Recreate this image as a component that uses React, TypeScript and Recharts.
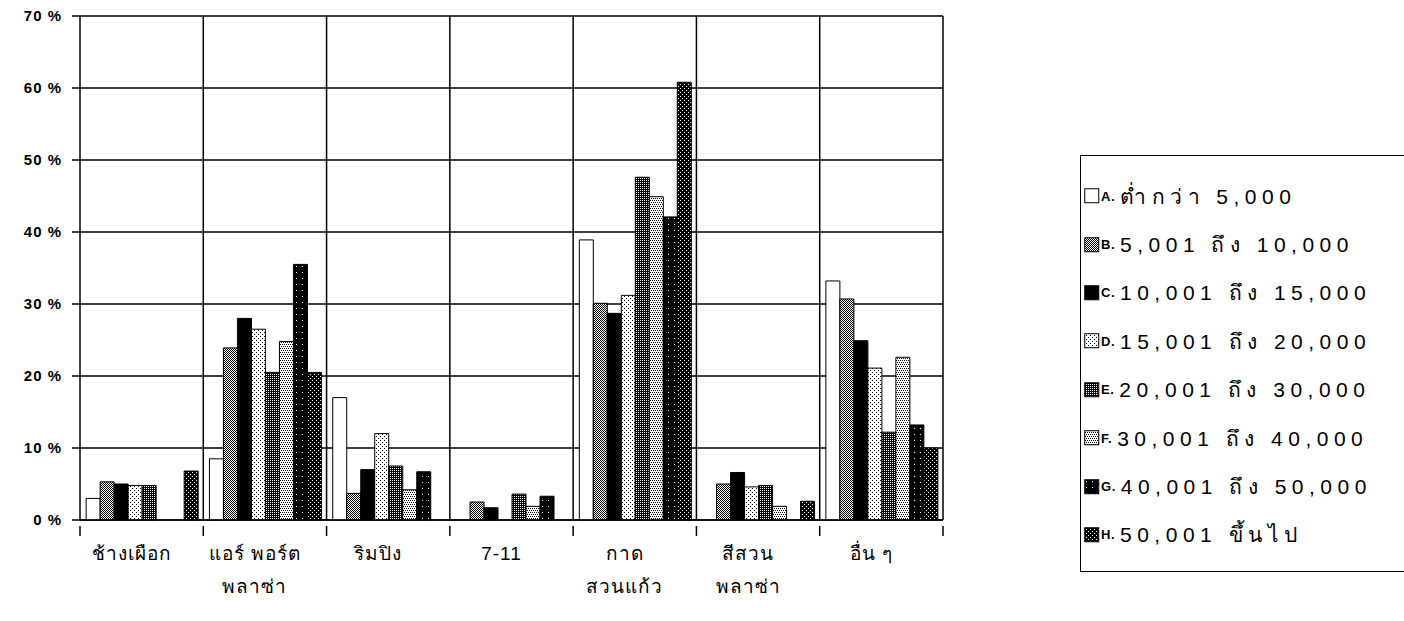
import { Bar, BarChart, CartesianGrid, XAxis, YAxis } from "recharts";

const categories = ["ช้างเผือก", "แอร์ พอร์ต|พลาซ่า", "ริมปิง", "7-11", "กาด|สวนแก้ว", "สีสวน|พลาซ่า", "อื่น ๆ"];
const yTicks = [0, 10, 20, 30, 40, 50, 60, 70];

const seriesA = [3.0, 8.5, 17, 0, 38.9, 0, 33.2];
const seriesB = [5.3, 23.9, 3.7, 2.5, 30.1, 5.0, 30.7];
const seriesC = [5.0, 28, 7, 1.7, 28.7, 6.6, 24.9];
const seriesD = [4.8, 26.5, 12, 0, 31.2, 4.6, 21.1];
const seriesE = [4.8, 20.5, 7.5, 3.6, 47.6, 4.8, 12.2];
const seriesF = [0, 24.8, 4.2, 1.9, 44.9, 1.9, 22.6];
const seriesG = [0, 35.5, 6.7, 3.3, 42.1, 0, 13.2];
const seriesH = [6.8, 20.5, 0, 0, 60.8, 2.6, 10];

const seriesKeys = ["A", "B", "C", "D", "E", "F", "G", "H"];
const seriesLabels = [
  "ต่ำกว่า 5,000",
  "5,001 ถึง 10,000",
  "10,001 ถึง 15,000",
  "15,001 ถึง 20,000",
  "20,001 ถึง 30,000",
  "30,001 ถึง 40,000",
  "40,001 ถึง 50,000",
  "50,001 ขึ้นไป",
];
const allSeries = [seriesA, seriesB, seriesC, seriesD, seriesE, seriesF, seriesG, seriesH];

const data = categories.map((name, i) => {
  const row: Record<string, string | number> = { name };
  seriesKeys.forEach((k, s) => (row[k] = allSeries[s][i]));
  return row;
});

const fills: Record<string, string> = {
  A: "#fff",
  B: "url(#pB)",
  C: "#000",
  D: "url(#pD)",
  E: "url(#pE)",
  F: "url(#pF)",
  G: "url(#pG)",
  H: "url(#pH)",
};

const font = "'Liberation Sans', Arial, sans-serif";

function XTick(props: any) {
  const { x, y, payload, index } = props;
  const half = payload.offset ?? 0;
  const lines = String(payload.value).split("|");
  const top = y - 2;
  return (
    <g>
      <line x1={x - half} x2={x - half} y1={top} y2={top + 10} stroke="#000" strokeWidth={1.5} />
      {index === categories.length - 1 && (
        <line x1={x + half} x2={x + half} y1={top} y2={top + 10} stroke="#000" strokeWidth={1.5} />
      )}
      {lines.map((l, i) => (
        <text
          key={i}
          x={x - 10}
          y={top + 34 + i * 33}
          textAnchor="middle"
          fontSize={19}
          letterSpacing={1}
          fill="#000"
          fontFamily={font}
        >
          {l}
        </text>
      ))}
    </g>
  );
}

function LegendBox() {
  return (
    <div
      style={{
        position: "absolute",
        left: 1080,
        top: 155,
        border: "1.5px solid #000",
        borderRight: "none",
        width: 330,
        height: 417,
        boxSizing: "border-box",
        paddingTop: 16,
        fontFamily: font,
        whiteSpace: "nowrap",
      }}
    >
      {seriesKeys.map((k, i) => (
        <div key={k} style={{ display: "flex", alignItems: "center", height: 48.4, paddingLeft: 3 }}>
          <svg width={16} height={16} style={{ marginRight: 1, flex: "none" }}>
            <rect x={0.75} y={0.75} width={14} height={14} fill={fills[k]} stroke="#000" strokeWidth={1} />
          </svg>
          <span style={{ fontSize: 13, fontWeight: 700, marginRight: 5, letterSpacing: 0.5 }}>{k}.</span>
          <span style={{ fontSize: 21, letterSpacing: 5.5, color: "#000" }}>{seriesLabels[i]}</span>
        </div>
      ))}
    </div>
  );
}

export default function App() {
  return (
    <div style={{ position: "absolute", left: 0, top: 0, width: 1404, height: 621, background: "#fff", overflow: "hidden" }}>
      <BarChart
        width={1404}
        height={621}
        data={data}
        margin={{ top: 16, right: 461, left: 0, bottom: 0 }}
        barCategoryGap="5%"
        barGap={0}
      >
        <defs>
          <pattern id="pB" width={2} height={2} patternUnits="userSpaceOnUse">
            <rect width={2} height={2} fill="#fff" />
            <rect x={0} y={0} width={1} height={1} fill="#000" />
            <rect x={1} y={1} width={1} height={1} fill="#000" />
          </pattern>
          <pattern id="pD" width={4} height={4} patternUnits="userSpaceOnUse">
            <rect width={4} height={4} fill="#fff" />
            <rect x={0} y={0} width={1} height={1} fill="#000" />
            <rect x={2} y={2} width={1} height={1} fill="#000" />
          </pattern>
          <pattern id="pE" width={2} height={2} patternUnits="userSpaceOnUse">
            <rect width={2} height={2} fill="#000" />
            <rect x={0} y={0} width={1} height={1} fill="#fff" />
          </pattern>
          <pattern id="pF" width={4} height={4} patternUnits="userSpaceOnUse">
            <rect width={4} height={4} fill="#fff" />
            <rect x={0} y={0} width={1} height={1} fill="#000" />
            <rect x={2} y={0} width={1} height={1} fill="#000" />
            <rect x={1} y={2} width={1} height={1} fill="#000" />
            <rect x={3} y={2} width={1} height={1} fill="#000" />
          </pattern>
          <pattern id="pG" width={6} height={6} patternUnits="userSpaceOnUse">
            <rect width={6} height={6} fill="#000" />
            <rect x={2} y={2} width={1} height={1} fill="#fff" />
          </pattern>
          <pattern id="pH" width={4} height={4} patternUnits="userSpaceOnUse">
            <rect width={4} height={4} fill="#000" />
            <rect x={0} y={0} width={1} height={1} fill="#fff" />
            <rect x={2} y={2} width={1} height={1} fill="#fff" />
          </pattern>
        </defs>
        <CartesianGrid
          stroke="#000"
          strokeWidth={1.5}
          verticalCoordinatesGenerator={({ offset }: any) =>
            categories.map((_, i) => offset.left + ((i + 1) * offset.width) / categories.length)
          }
        />
        <XAxis
          dataKey="name"
          height={101}
          interval={0}
          tickLine={false}
          axisLine={{ stroke: "#000", strokeWidth: 1.5 }}
          tick={<XTick />}
        />
        <YAxis
          width={80}
          domain={[0, 70]}
          ticks={yTicks}
          interval={0}
          tickSize={8}
          tickMargin={10}
          axisLine={{ stroke: "#000", strokeWidth: 1.5 }}
          tickLine={{ stroke: "#000", strokeWidth: 1.5 }}
          tickFormatter={(v) => `${v} %`}
          tick={{ fill: "#000", fontSize: 15, fontWeight: 700, fontFamily: font, letterSpacing: 1 }}
        />
        {seriesKeys.map((k) => (
          <Bar key={k} dataKey={k} fill={fills[k]} stroke="#000" strokeWidth={1} isAnimationActive={false} />
        ))}
      </BarChart>
      <LegendBox />
    </div>
  );
}
